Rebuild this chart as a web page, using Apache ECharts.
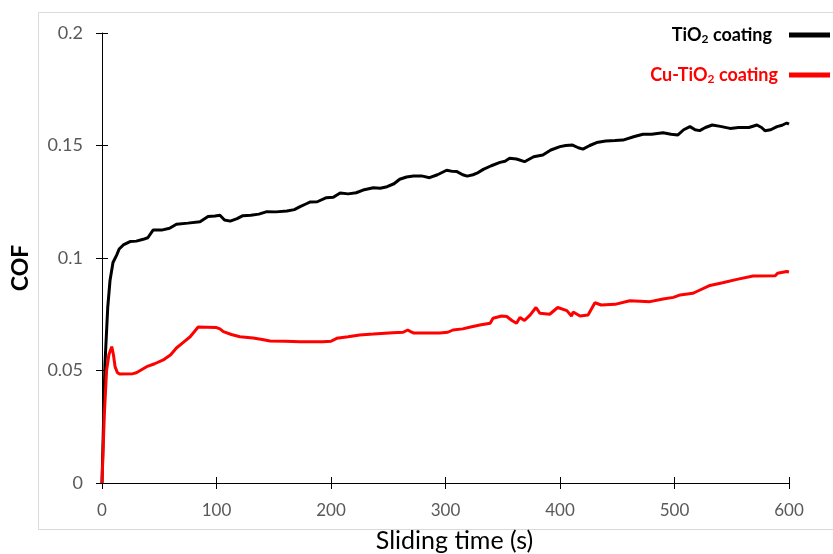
<!DOCTYPE html>
<html>
<head>
<meta charset="utf-8">
<script src="https://cdn.jsdelivr.net/npm/echarts@6/dist/echarts.min.js"></script>
<style>
  html, body { margin: 0; padding: 0; background: #fff; }
  #chart { width: 833px; height: 554px; }
</style>
</head>
<body>
<div id="chart"></div>
<script>
// 读图得到的数据 (time s, COF)
var tBlack = [0, 1, 2.6, 5, 7, 9.6, 12.8, 15, 18.6, 24.5, 30, 36, 40, 44.6, 52, 59, 65, 75, 85.6, 92.6,
  98.7, 103, 107, 112, 118, 123, 130, 137, 144, 152, 161.5, 168, 173, 178, 182, 188, 196, 202, 208, 215,
  222, 228, 237, 243, 249, 255, 260, 266, 272, 279, 286, 293, 301, 306, 310, 315, 319, 324, 327.5, 333,
  340, 347.6, 352, 356, 362, 369, 377, 385, 392, 400, 405, 411, 416, 420, 426, 432, 440, 448, 455, 465,
  472.5, 480, 490, 497, 503, 508, 513.5, 518, 522, 527, 533, 540, 548.5, 556, 565, 572, 576, 579, 584,
  589.5, 594, 598, 600];
var cofBlack = [0, 0.02, 0.053, 0.078, 0.09, 0.098, 0.1013, 0.104, 0.1058, 0.1073, 0.1075, 0.1083, 0.109, 0.1124, 0.1124, 0.1132, 0.115, 0.1155, 0.1161, 0.1184,
  0.1187, 0.119, 0.1169, 0.1164, 0.1175, 0.1188, 0.119, 0.1195, 0.1206, 0.1205, 0.1209, 0.1215, 0.1228, 0.124, 0.1249, 0.125, 0.1268, 0.127, 0.1289, 0.1285,
  0.129, 0.1302, 0.1312, 0.131, 0.1317, 0.133, 0.135, 0.136, 0.1364, 0.1365, 0.1357, 0.137, 0.139, 0.1385, 0.1384, 0.137, 0.1364, 0.137, 0.1377, 0.1394,
  0.141, 0.1425, 0.143, 0.1443, 0.144, 0.1428, 0.145, 0.1458, 0.148, 0.1495, 0.15, 0.1502, 0.149, 0.1484, 0.15, 0.1513, 0.152, 0.1522, 0.1524, 0.154,
  0.155, 0.155, 0.1557, 0.155, 0.1547, 0.157, 0.1584, 0.157, 0.1566, 0.158, 0.1591, 0.1585, 0.1576, 0.158, 0.158, 0.1591, 0.158, 0.1566, 0.157,
  0.1584, 0.159, 0.16, 0.1595];

var tRed = [0, 2, 4, 6, 8.5, 10, 11.4, 13.5, 15.7, 27, 30, 39, 46, 53.5, 60, 65, 71, 77, 84, 100,
  103, 106, 113, 120.5, 132, 140, 146.7, 160, 173, 193, 200, 205, 215, 225, 237, 254, 263, 267, 270, 272,
  295, 302, 306.5, 315, 321, 330, 339, 341.5, 349, 353.5, 358, 362, 365, 369, 374, 379, 382.5, 391, 398, 406,
  410, 411.5, 417.5, 424.5, 430.5, 436, 448, 461, 478.6, 490, 499, 505, 516, 519, 531, 542, 554.5, 568.6, 588, 590,
  598, 600];
var cofRed = [0, 0.03, 0.05, 0.057, 0.0606, 0.057, 0.0517, 0.049, 0.0484, 0.0486, 0.049, 0.0517, 0.053, 0.0547, 0.057, 0.06, 0.0625, 0.065, 0.0693, 0.0691,
  0.0685, 0.0673, 0.066, 0.065, 0.0644, 0.0638, 0.0631, 0.063, 0.0628, 0.0628, 0.063, 0.0643, 0.065, 0.0658, 0.0662, 0.0668, 0.067, 0.068, 0.0672, 0.0667,
  0.0667, 0.067, 0.068, 0.0685, 0.0692, 0.0702, 0.071, 0.0732, 0.0742, 0.074, 0.0722, 0.071, 0.0736, 0.0722, 0.0747, 0.078, 0.0754, 0.075, 0.078, 0.0766,
  0.0742, 0.076, 0.0742, 0.0747, 0.0801, 0.0791, 0.0794, 0.081, 0.0806, 0.0818, 0.0825, 0.0836, 0.0843, 0.085, 0.0878, 0.089, 0.0905, 0.092, 0.0921, 0.0932,
  0.094, 0.0938];

var xTicks = [0, 100, 200, 300, 400, 500, 600];
var yTicks = [0, 0.05, 0.1, 0.15, 0.2];

function pairs(xs, ys) {
  var out = [];
  xs.forEach(function (v, i) { out.push([v, ys[i]]); });
  return out;
}

var myChart = echarts.init(document.getElementById("chart"));
var font = "Lato, 'Open Sans', sans-serif";
var tickStyle = { color: "#000", width: 1 };

function legendRich(color) {
  return {
    m: { color: color, fontWeight: "bold", fontSize: 18, fontFamily: font },
    s: { color: color, fontWeight: "bold", fontSize: 12, fontFamily: font, padding: [9, 0, 0, 0] },
    g: { width: 12 },
    h: { width: 6 },
  };
}

var legendBase = {
  orient: "vertical",
  right: -2,
  align: "right",
  itemWidth: 41,
  itemHeight: 5,
  icon: "rect",
  selectedMode: false,
};

var option = {
  animation: false,
  textStyle: { fontFamily: font },
  grid: { left: 102, right: 44, top: 33, bottom: 71, containLabel: false, outerBoundsMode: "none" },
  graphic: [
    {
      type: "rect",
      shape: { x: 38.5, y: 12.5, width: 810, height: 517 },
      style: { fill: "none", stroke: "#d9d9d9", lineWidth: 1 },
      z: -10,
    },
  ],
  legend: [
    Object.assign({}, legendBase, {
      top: 21,
      data: ["TiO2 coating"],
      formatter: function () { return "{m|TiO}{s|2}{m| coating}{g|}"; },
      textStyle: { rich: legendRich("#000") },
    }),
    Object.assign({}, legendBase, {
      top: 61,
      data: ["Cu-TiO2 coating"],
      formatter: function () { return "{m|Cu-TiO}{s|2}{m| coating}{h|}"; },
      textStyle: { rich: legendRich("#ff0000") },
    }),
  ],
  xAxis: [
    {
      type: "value",
      min: 0,
      max: 600,
      interval: 100,
      name: "Sliding time (s)",
      nameLocation: "middle",
      nameGap: 45,
      nameTextStyle: { fontSize: 25, color: "#000", fontFamily: font, padding: [0, 0, 0, 18] },
      axisLine: { lineStyle: { color: "#000", width: 1 } },
      axisTick: { length: 6, lineStyle: tickStyle },
      axisLabel: {
        color: "#595959",
        fontSize: 17,
        margin: 19,
        formatter: function (v) { return xTicks.indexOf(v) >= 0 ? String(v) : ""; },
      },
      splitLine: { show: false },
    },
    {
      type: "value",
      min: 0,
      max: 600,
      interval: 100,
      position: "bottom",
      axisLine: { show: false },
      axisTick: { inside: true, length: 6, lineStyle: tickStyle },
      axisLabel: { show: false },
      splitLine: { show: false },
    },
  ],
  yAxis: [
    {
      type: "value",
      min: 0,
      max: 0.2,
      interval: 0.05,
      name: "COF",
      nameLocation: "middle",
      nameGap: 70,
      nameTextStyle: { fontSize: 23, fontWeight: "bold", color: "#000", fontFamily: font, padding: [0, 20, 0, 0] },
      axisLine: { show: true, lineStyle: { color: "#000", width: 1 } },
      axisTick: { show: true, length: 6, lineStyle: tickStyle },
      axisLabel: {
        color: "#595959",
        fontSize: 18,
        margin: 19,
        formatter: function (v) {
          var r = Math.round(v * 100) / 100;
          return yTicks.indexOf(r) >= 0 ? String(r) : "";
        },
      },
      splitLine: { show: false },
    },
    {
      type: "value",
      min: 0,
      max: 0.2,
      interval: 0.05,
      position: "left",
      axisLine: { show: false },
      axisTick: { show: true, inside: true, length: 6, lineStyle: tickStyle },
      axisLabel: { show: false },
      splitLine: { show: false },
    },
  ],
  series: [
    {
      name: "TiO2 coating",
      type: "line",
      data: pairs(tBlack, cofBlack),
      showSymbol: false,
      color: "#000",
      lineStyle: { width: 3, color: "#000" },
      z: 3,
    },
    {
      name: "Cu-TiO2 coating",
      type: "line",
      data: pairs(tRed, cofRed),
      showSymbol: false,
      color: "#ff0000",
      lineStyle: { width: 3, color: "#ff0000" },
      z: 4,
    },
  ],
};
myChart.setOption(option);
</script>
</body>
</html>
